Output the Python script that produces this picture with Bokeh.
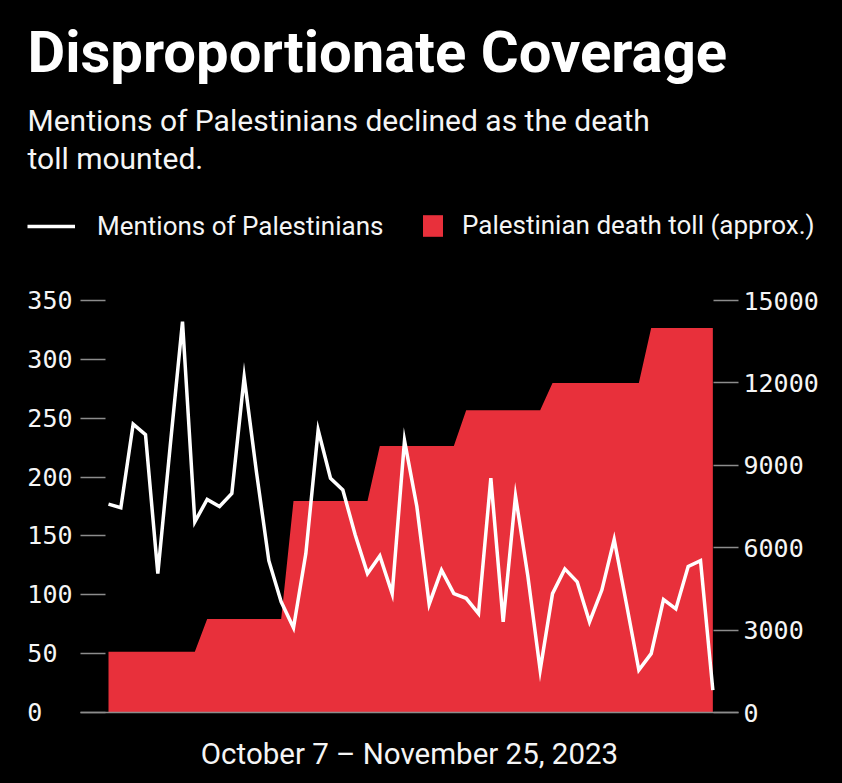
from bokeh.plotting import figure
from bokeh.layouts import column
from bokeh.models import Range1d, LinearAxis, FixedTicker, Label, Legend, LegendItem
from bokeh.embed import file_html
from bokeh.resources import INLINE

# Daily series, October 7 (day 0) to November 25, 2023 (day 49)
days = list(range(50))

mentions = [177, 174, 245, 236, 118, 226, 332, 162, 181, 175,
            186, 285, 204, 129, 94, 72, 135, 240, 199, 189,
            151, 118, 133, 101, 231, 175, 92, 121, 101, 97,
            84, 199, 77, 184, 116, 36, 101, 122, 111, 77,
            104, 147, 92, 36, 50, 96, 88, 124, 129, 19]

death_toll = [2215, 2215, 2215, 2215, 2215, 2215, 2215, 2215,
              3400, 3400, 3400, 3400, 3400, 3400, 3400,
              7700, 7700, 7700, 7700, 7700, 7700, 7700,
              9700, 9700, 9700, 9700, 9700, 9700, 9700,
              11000, 11000, 11000, 11000, 11000, 11000, 11000,
              12000, 12000, 12000, 12000, 12000, 12000, 12000, 12000,
              14000, 14000, 14000, 14000, 14000, 14000]

mention_ticks = [0, 50, 100, 150, 200, 250, 300, 350]
toll_ticks = [0, 3000, 6000, 9000, 12000, 15000]

RED = "#E8303B"
GREY = "#8c8c8c"
TEXT = "#f5f5f5"
SANS = "Roboto"
MONO = "DejaVu Sans Mono"
LINE_W = 3.5

# ---------- heading block: title, subtitle and legend ----------
head = figure(width=842, height=280, output_backend="svg", toolbar_location=None,
              title=None, x_range=Range1d(0, 1), y_range=Range1d(0, 1),
              x_axis_type=None, y_axis_type=None, min_border=0,
              background_fill_color="black", border_fill_color="black",
              outline_line_color=None)
head.frame_align = False
head.grid.visible = False

# single-point renderers: nothing visible, they only supply the legend keys
key_line = head.line(x=[0], y=[0], line_color="white", line_width=LINE_W)
key_area = head.varea(x=[0], y1=[0], y2=[0], fill_color=RED)

head.add_layout(Label(x=27, y=229, x_units="screen", y_units="screen",
                      text="Disproportionate Coverage", text_color="white",
                      text_font=SANS, text_font_style="bold",
                      text_font_size="58px", text_baseline="alphabetic"))
head.add_layout(Label(x=27, y=160, x_units="screen", y_units="screen",
                      text="Mentions of Palestinians declined as the death",
                      text_color=TEXT, text_font=SANS,
                      text_font_size="30px", text_baseline="alphabetic"))
head.add_layout(Label(x=27, y=122, x_units="screen", y_units="screen",
                      text="toll mounted.", text_color=TEXT, text_font=SANS,
                      text_font_size="30px", text_baseline="alphabetic"))

legend_style = dict(orientation="horizontal", label_height=22,
                    padding=0, margin=0, spacing=0, border_line_color=None,
                    background_fill_alpha=0, label_text_font=SANS,
                    label_text_font_size="26px", label_text_color=TEXT)
head.add_layout(Legend(items=[LegendItem(label="Mentions of Palestinians",
                                         renderers=[key_line])],
                       location=(27, 39), glyph_width=48, glyph_height=22,
                       label_standoff=22, **legend_style))
head.add_layout(Legend(items=[LegendItem(label="Palestinian death toll (approx.)",
                                         renderers=[key_area])],
                       location=(420, 40), glyph_width=25, glyph_height=27,
                       label_standoff=17, **legend_style))

# ---------- chart ----------
p = figure(width=842, height=503, output_backend="svg", toolbar_location=None,
           x_range=Range1d(-2.27, 51.08),
           y_range=Range1d(mention_ticks[0], mention_ticks[-1]),
           min_border_left=80, min_border_right=104,
           min_border_top=20, min_border_bottom=71,
           background_fill_color="black", border_fill_color="black",
           outline_line_color=None)
p.frame_align = False
p.extra_y_ranges = {"toll": Range1d(toll_ticks[0], toll_ticks[-1])}

# death toll as a filled area on the right-hand scale
p.varea(x=days, y1=0, y2=death_toll, y_range_name="toll",
        fill_color=RED, fill_alpha=1.0)
# mentions as a white line on the left-hand scale
p.line(x=days, y=mentions, line_color="white", line_width=LINE_W,
       line_join="miter")

# bottom axis: baseline plus the date-span caption
xa = p.xaxis[0]
xa.ticker = FixedTicker(ticks=[])
xa.major_tick_out = 0
xa.major_tick_in = 0
xa.major_label_standoff = 0
xa.minor_tick_line_color = None
xa.axis_line_color = GREY
xa.axis_line_width = 1.5
xa.axis_label = "October 7 \u2013 November 25, 2023"
xa.axis_label_text_font = SANS
xa.axis_label_text_font_style = "normal"
xa.axis_label_text_font_size = "29.5px"
xa.axis_label_text_color = TEXT
xa.axis_label_standoff = 24

def style_y(ax, standoff):
    ax.axis_line_color = None
    ax.minor_tick_line_color = None
    ax.major_tick_line_color = GREY
    ax.major_tick_line_width = 1.5
    ax.major_tick_in = 25
    ax.major_tick_out = 0
    ax.major_label_standoff = standoff
    ax.major_label_text_font = MONO
    ax.major_label_text_font_size = "25px"
    ax.major_label_text_color = TEXT

left = p.yaxis[0]
left.ticker = FixedTicker(ticks=mention_ticks)
# left-aligned tick labels: pad the shorter numbers to three characters
left.major_label_overrides = {t: str(t).ljust(3, "\u00a0") for t in mention_ticks}
style_y(left, 8)

right = LinearAxis(y_range_name="toll", ticker=FixedTicker(ticks=toll_ticks))
style_y(right, 5)
p.add_layout(right, "right")

p.xgrid.visible = False
p.ygrid.ticker = FixedTicker(ticks=[mention_ticks[-1]])
p.ygrid.grid_line_color = GREY
p.ygrid.grid_line_width = 1.5

layout = column(head, p, spacing=0, background="black")
open("out.html", "w").write(file_html(layout, INLINE))
